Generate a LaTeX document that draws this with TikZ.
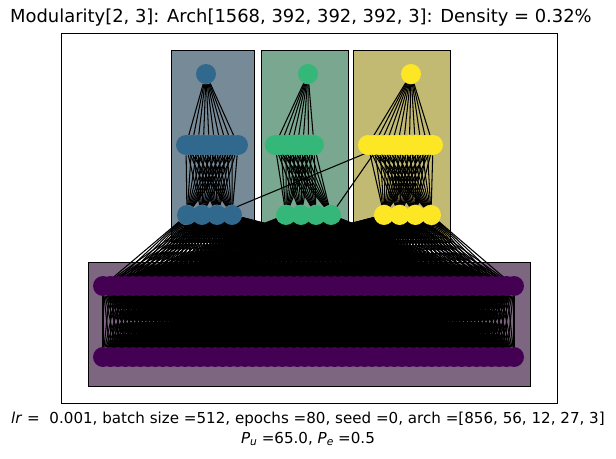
\documentclass[tikz,border=0pt]{standalone}
\usepackage{fontspec}
\setmainfont{DejaVu Sans}
\usetikzlibrary{positioning}

\definecolor{vdpurple}{RGB}{68,1,84}
\definecolor{vdblue}{RGB}{49,104,142}
\definecolor{vdgreen}{RGB}{53,183,121}
\definecolor{vdyellow}{RGB}{253,231,37}
\definecolor{bluebg}{RGB}{119,138,151}
\definecolor{greenbg}{RGB}{122,167,143}
\definecolor{yellowbg}{RGB}{194,186,115}
\definecolor{purplebg}{RGB}{124,102,128}

\pgfdeclarelayer{boxes}
\pgfdeclarelayer{edges}
\pgfsetlayers{boxes,edges,main}

\begin{document}
\begin{tikzpicture}[
  x=0.02cm, y=-0.02cm,
  unit/.style={circle, inner sep=0pt, minimum size=0.4cm},
  link/.style={line width=0.6pt, black},
  modbox/.style={draw, line width=0.5pt, inner sep=0pt, minimum height=3.84cm},
  caption/.style={font=\fontsize{8.6}{10.3}\selectfont}
]
\useasboundingbox (0,0) rectangle (616,459);
% module boxes
\begin{pgfonlayer}{boxes}
\fill[white] (0,0) rectangle (616,459);
\node[modbox, fill=bluebg, minimum width=1.66cm] (boxa) at (212.5,146) {};
\node[modbox, fill=greenbg, minimum width=1.74cm] (boxb) at (304.5,146) {};
\node[modbox, fill=yellowbg, minimum width=1.94cm] (boxc) at (401.5,146) {};
\node[modbox, fill=purplebg, minimum width=8.84cm, minimum height=2.48cm] (boxp) at (309,324) {};
\end{pgfonlayer}

% axes and captions
\node[draw, line width=0.5pt, minimum width=9.92cm, minimum height=7.4cm, inner sep=0pt] (frame) at (309,218) {};
\node[font=\fontsize{10.2}{12}\selectfont] (title) at (301,18) {Modularity[2, 3]: Arch[1568, 392, 392, 392, 3]: Density = 0.32\%};
\node[caption] (xlab) at (308,419) {\textit{lr} =\ \ 0.001, batch size =512, epochs =80, seed =0, arch =[856, 56, 12, 27, 3]};
\node[caption] (xlab2) at (308,439) {\textit{P}\raisebox{-0.35ex}{\fontsize{6.1}{7}\selectfont\itshape u} =65.0, \textit{P}\raisebox{-0.35ex}{\fontsize{6.1}{7}\selectfont\itshape e} =0.5};

% shared layers
\foreach \i in {1,...,56} {
  \pgfmathsetmacro\px{103+(\i-1)/55*411}
  \node[unit, fill=vdpurple] (in\i) at (\px,357) {};
  \node[unit, fill=vdpurple] (hid\i) at (\px,286) {};
}

% modules
\foreach \m/\col/\bl/\br/\ml/\mr/\nm/\tx in {a/vdblue/187/232/186/238/10/206, b/vdgreen/286/331/275/314/8/308, c/vdyellow/384/431/368/433/12/411} {
  \foreach \k in {1,...,4} {
    \pgfmathsetmacro\px{\bl+(\k-1)*(\br-\bl)/3}
    \node[unit, fill=\col] (mb\m\k) at (\px,215) {};
  }
  \foreach \k in {1,...,\nm} {
    \pgfmathsetmacro\px{\ml+(\k-1)*(\mr-\ml)/(\nm-1)}
    \node[unit, fill=\col] (mm\m\k) at (\px,145) {};
  }
  \node[unit, fill=\col] (mt\m) at (\tx,74) {};
}

\begin{pgfonlayer}{edges}
\foreach \i in {1,...,56}
  \foreach \j in {1,...,56}
    \draw[link] (in\i) -- (hid\j);
\foreach \m/\nm in {a/10, b/8, c/12} {
  \foreach \k in {1,...,4} {
    \foreach \j in {1,...,56}
      \draw[link] (hid\j) -- (mb\m\k);
    \foreach \n in {1,...,\nm}
      \draw[link] (mb\m\k) -- (mm\m\n);
  }
  \foreach \n in {1,...,\nm}
    \draw[link] (mm\m\n) -- (mt\m);
}
\draw[link] (mba3) -- (mmc4);
\draw[link] (mbb4) -- (mmc3);
\end{pgfonlayer}
\end{tikzpicture}
\end{document}
